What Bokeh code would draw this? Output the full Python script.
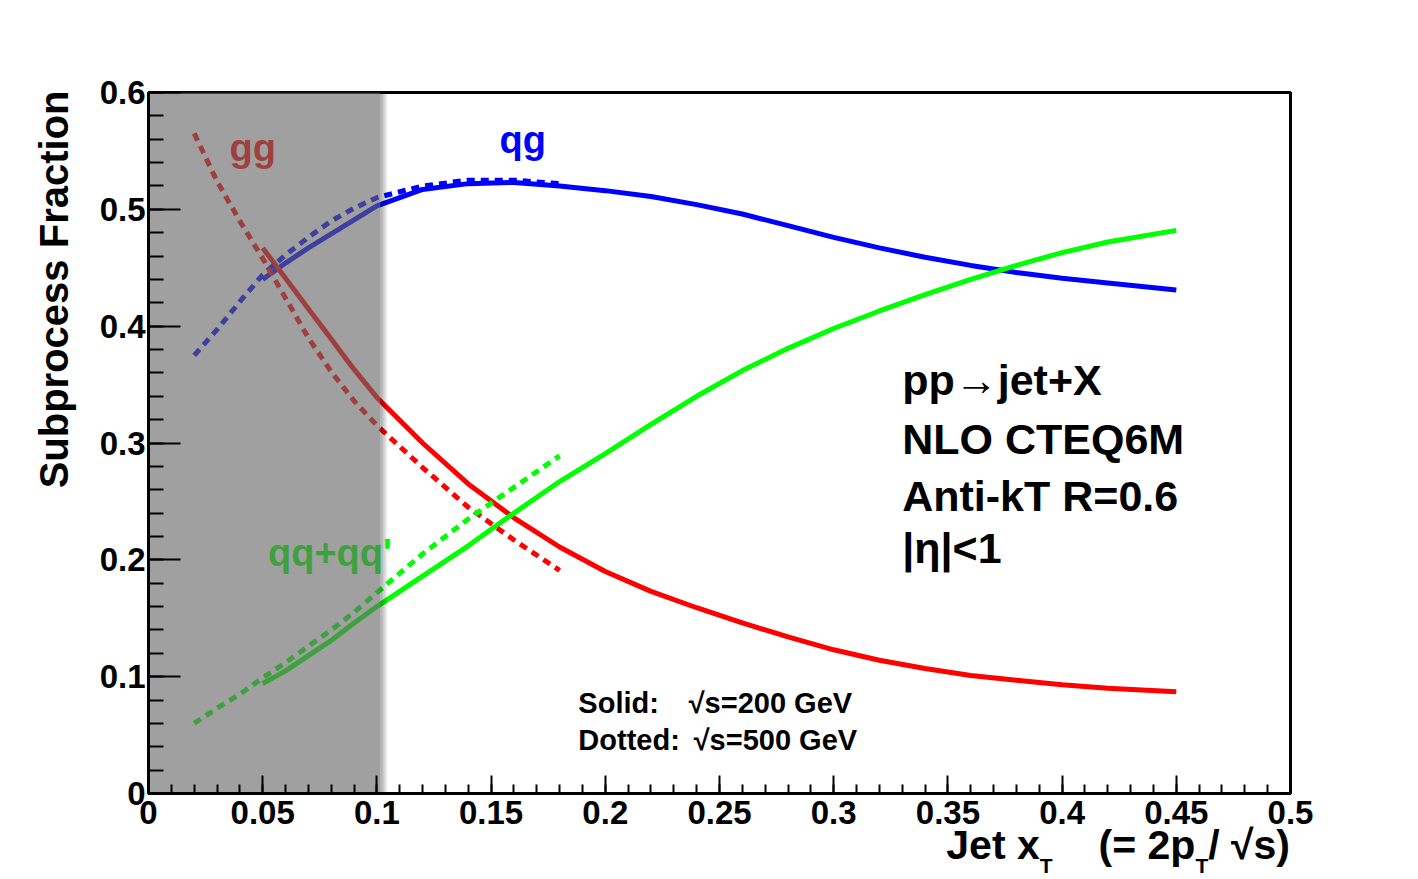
from bokeh.plotting import figure
from bokeh.models import ColumnDataSource, FixedTicker, Label, Range1d, Title, Div
from bokeh.layouts import column
from bokeh.embed import file_html
from bokeh.resources import INLINE
from bokeh.core.properties import value

# ---------------- data ----------------
x_200 = [0.05, 0.06, 0.07, 0.08, 0.09, 0.10, 0.12, 0.14, 0.16, 0.18, 0.20, 0.22,
         0.24, 0.26, 0.28, 0.30, 0.32, 0.34, 0.36, 0.38, 0.40, 0.42, 0.45]
qg_200 = [0.440, 0.454, 0.467, 0.479, 0.491, 0.503, 0.517, 0.522, 0.523, 0.520, 0.516, 0.511,
          0.504, 0.496, 0.486, 0.476, 0.467, 0.459, 0.452, 0.446, 0.441, 0.437, 0.431]
gg_200 = [0.467, 0.441, 0.415, 0.389, 0.363, 0.339, 0.300, 0.265, 0.236, 0.211, 0.190, 0.173,
          0.159, 0.146, 0.134, 0.123, 0.114, 0.107, 0.101, 0.097, 0.093, 0.090, 0.087]
qq_200 = [0.094, 0.105, 0.118, 0.131, 0.146, 0.160, 0.186, 0.212, 0.240, 0.267, 0.291, 0.316,
          0.340, 0.362, 0.381, 0.398, 0.413, 0.427, 0.440, 0.452, 0.463, 0.472, 0.482]

x_500 = [0.02, 0.03, 0.04, 0.05, 0.06, 0.07, 0.08, 0.09, 0.10, 0.12, 0.14, 0.16, 0.18]
qg_500 = [0.375, 0.397, 0.421, 0.444, 0.461, 0.476, 0.490, 0.501, 0.510, 0.520, 0.525, 0.525, 0.522]
gg_500 = [0.565, 0.524, 0.490, 0.458, 0.424, 0.390, 0.361, 0.336, 0.315, 0.279, 0.245, 0.217, 0.191]
qq_500 = [0.060, 0.073, 0.085, 0.099, 0.112, 0.126, 0.140, 0.155, 0.172, 0.205, 0.235, 0.262, 0.289]

x_ticks = [0, 0.05, 0.1, 0.15, 0.2, 0.25, 0.3, 0.35, 0.4, 0.45, 0.5]
x_tick_labels = ["0", "0.05", "0.1", "0.15", "0.2", "0.25", "0.3", "0.35", "0.4", "0.45", "0.5"]
x_minor = [round(i * 0.01, 2) for i in range(51)]
y_ticks = [0, 0.1, 0.2, 0.3, 0.4, 0.5, 0.6]
y_tick_labels = ["0", "0.1", "0.2", "0.3", "0.4", "0.5", "0.6"]
y_minor = [round(i * 0.02, 2) for i in range(31)]

shade_x = [0.0, 0.1015]      # low-x region shaded in grey
shade_y = [0.0, 0.6]

FONT = "Liberation Sans"

# ---------------- figure ----------------
FIG_H = 835
p = figure(width=1418, height=FIG_H, output_backend="svg", toolbar_location=None,
           x_range=Range1d(0, 0.5), y_range=Range1d(0, 0.6),
           min_border_left=148, min_border_right=128, min_border_top=92,
           min_border_bottom=FIG_H - 793)
p.background_fill_color = "white"
p.border_fill_color = "white"
p.outline_line_color = "black"
p.outline_line_width = 3
p.xgrid.visible = False
p.ygrid.visible = False

p.xaxis.ticker = FixedTicker(ticks=x_ticks, minor_ticks=x_minor)
p.yaxis.ticker = FixedTicker(ticks=y_ticks, minor_ticks=y_minor)
p.xaxis.major_label_overrides = {t: l for t, l in zip(x_ticks, x_tick_labels)}
p.yaxis.major_label_overrides = {t: l for t, l in zip(y_ticks, y_tick_labels)}

for ax in (p.xaxis, p.yaxis):
    ax.axis_line_color = "black"
    ax.axis_line_width = 3
    ax.major_tick_line_color = "black"
    ax.minor_tick_line_color = "black"
    ax.major_tick_line_width = 2
    ax.minor_tick_line_width = 2
    ax.major_tick_out = 0
    ax.minor_tick_out = 0
    ax.major_label_text_font = FONT
    ax.major_label_text_font_style = "bold"
    ax.major_label_text_font_size = "33px"
    ax.major_label_text_color = "black"

p.xaxis.major_tick_in = 18
p.xaxis.minor_tick_in = 9
p.yaxis.major_tick_in = 32
p.yaxis.minor_tick_in = 15
p.xaxis.major_label_standoff = 7
p.yaxis.major_label_standoff = 3

# y-axis title, aligned to the top of the frame
p.add_layout(Title(text="Subprocess Fraction", align="right", text_font=FONT,
                   text_font_size="40px", text_font_style="bold", text_color="black",
                   standoff=41, offset=-2), "left")

# ---------------- curves ----------------
LW = 5
DASH = "8 6"
for ys, c in [(qg_200, "#0000ff"), (gg_200, "#ff0000"), (qq_200, "#00ff00")]:
    p.line(x_200, ys, line_color=c, line_width=LW, line_join="round")
for ys, c in [(qg_500, "#0000ff"), (gg_500, "#ff0000"), (qq_500, "#00ff00")]:
    p.line(x_500, ys, line_color=c, line_width=LW, line_dash=DASH, line_join="round")

uy = 0.6 / 701.0    # data per pixel (y)

# curve names (inside plot, under the grey shading)
names = ColumnDataSource(dict(x=[0.0355, 0.1537, 0.0523],
                              y=[0.542 + 12 * uy, 0.5487 + 12 * uy, 0.1957 + 12 * uy],
                              t=["gg", "qg", "qq+qq'"], c=["#ff0000", "#0000ff", "#00ff00"]))
p.text(x="x", y="y", text="t", text_color="c", source=names,
       text_font=value(FONT), text_font_style="bold", text_font_size="38px",
       text_baseline="alphabetic", text_align="left")

# ---------------- grey shaded region with soft shadow ----------------
px = 0.5 / 1142.0
for k in range(1, 8):
    p.quad(left=shade_x[1], right=shade_x[1] + k * px, bottom=shade_y[0], top=shade_y[1],
           fill_color="black", fill_alpha=0.05, line_color=None)
p.quad(left=shade_x[0], right=shade_x[1], bottom=shade_y[0], top=shade_y[1],
       fill_color="#666666", fill_alpha=0.62, line_color=None)

# ---------------- annotations ----------------
def lab(x, y, text, size):
    p.add_layout(Label(x=x, y=y, text=text, text_font=FONT, text_font_size=size,
                       text_font_style="bold", text_color="black",
                       text_align="left", text_baseline="alphabetic"))

for txt, yb in [("pp\u2192jet+X", 0.3407), ("NLO CTEQ6M", 0.2902),
                ("Anti-kT R=0.6", 0.2422), ("|\u03b7|<1", 0.1977)]:
    lab(0.330, yb + 15 * uy, txt, "43px")

lab(0.1882, (793 - 702) * uy, "Solid:", "29px")
lab(0.2365, (793 - 702) * uy, "\u221as=200 GeV", "29px")
lab(0.1882, (793 - 739) * uy, "Dotted:", "29px")
lab(0.2387, (793 - 739) * uy, "\u221as=500 GeV", "29px")

# x-axis title (with subscripts) below the figure, pulled up into the figure's bottom margin
OVERLAP = 13
xtitle = Div(
    text=('<div style="font-family:\'Liberation Sans\',Arial,sans-serif; font-weight:bold; '
          'font-size:41px; line-height:46px; color:black; text-align:right; '
          'width:1290px; white-space:nowrap; height:%dpx;">'
          'Jet x<span style="font-size:21px; vertical-align:-14px;">T</span>'
          '<span style="margin-left:46px;">(= 2p</span>'
          '<span style="font-size:21px; vertical-align:-14px;">T</span>/ \u221as)</div>')
         % (879 - FIG_H + OVERLAP),
    width=1418, height=879 - FIG_H + OVERLAP, margin=(-OVERLAP, 0, 0, 0))

layout = column(p, xtitle, spacing=0)
open("out.html", "w").write(file_html(layout, INLINE))
